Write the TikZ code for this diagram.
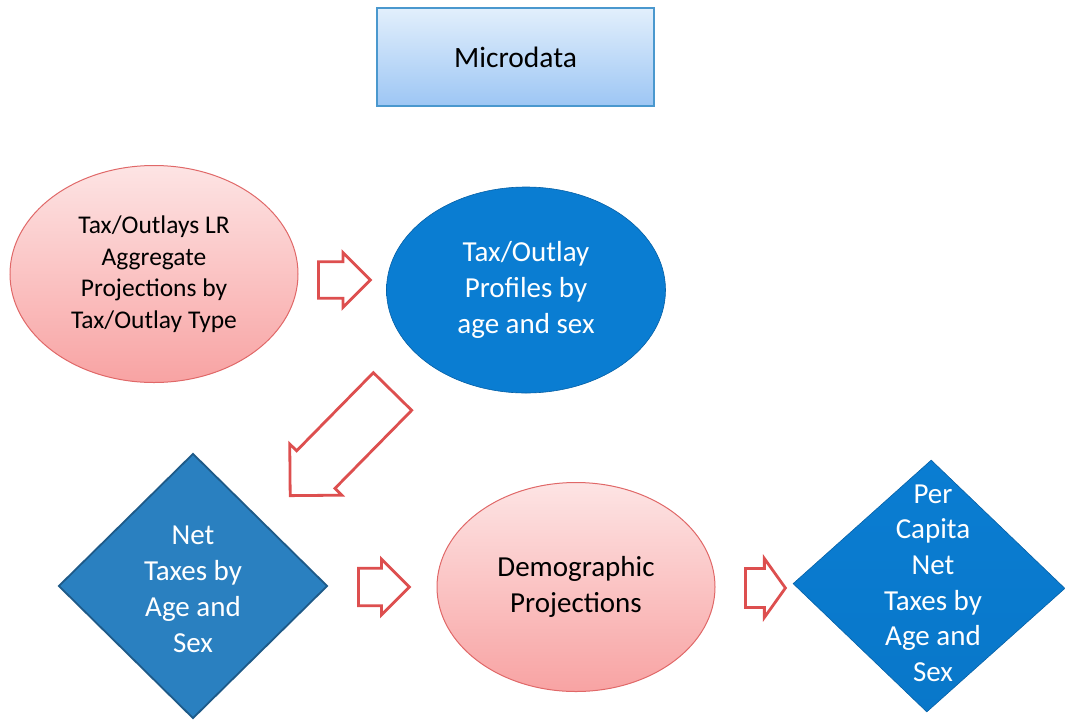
\documentclass[tikz,border=0pt]{standalone}
\usepackage{fontspec}
\setmainfont{Carlito}
\usetikzlibrary{shapes.geometric,shapes.arrows}
\definecolor{pinktop}{HTML}{FDE4E4}
\definecolor{pinkbot}{HTML}{F8A3A3}
\definecolor{pinkline}{HTML}{E06868}
\definecolor{bluemain}{HTML}{0A7DD2}
\definecolor{bluedark}{HTML}{0560A6}
\definecolor{netblue}{HTML}{2A80C0}
\definecolor{netline}{HTML}{1E5A88}
\definecolor{mictop}{HTML}{E2EFFC}
\definecolor{micbot}{HTML}{9DC6F4}
\definecolor{micline}{HTML}{4A98CE}
\definecolor{arrowred}{HTML}{DD4F4F}
\pgfdeclareradialshading{bevelblue}{\pgfpoint{0bp}{3bp}}{color(0bp)=(bluemain); color(41bp)=(bluemain); color(50bp)=(bluedark)}
\tikzset{
  pinkell/.style={ellipse, draw=pinkline, line width=1pt, top color=pinktop, bottom color=pinkbot, inner sep=0pt},
  blueell/.style={ellipse, shading=bevelblue, draw=bluedark, line width=0.6pt, inner sep=0pt},
  diam/.style={diamond, inner sep=0pt, aspect=1},
  blockarrow/.style={single arrow, draw=arrowred, fill=white, line width=2.8pt, single arrow tip angle=90, inner sep=0pt, anchor=tail},
  bigtxt/.style={font=\fontsize{29}{36}\selectfont, align=center},
  smalltxt/.style={font=\fontsize{25.5}{31.5}\selectfont, align=center},
}
\begin{document}
\begin{tikzpicture}[x=1pt,y=-1pt]
\useasboundingbox (0,0) rectangle (1065,721);
% Microdata
\node[rectangle, draw=micline, line width=1.2pt, top color=mictop, bottom color=micbot,
      minimum width=277pt, minimum height=98pt, inner sep=0pt,
      font=\fontsize{29.5}{36}\selectfont] (mic) at (515.5,57) {Microdata};
% ellipses
\node[pinkell, minimum width=288pt, minimum height=217pt, smalltxt] (agg) at (154,274)
  {Tax/Outlays LR\\Aggregate\\Projections by\\Tax/Outlay Type};
\node[blueell, minimum width=279pt, minimum height=206pt, bigtxt, text=white] (prof) at (526,290)
  {Tax/Outlay\\Profiles by\\age and sex};
\node[pinkell, minimum width=278pt, minimum height=209pt, bigtxt] (demo) at (576,587)
  {Demographic\\Projections};
% diamonds
\node[diam, draw=netline, line width=1.8pt, fill=netblue, minimum width=269pt, minimum height=265pt] (net) at (193,586) {};
\node[bigtxt, text=white] (nettxt) at (193,589) {Net\\Taxes by\\Age and\\Sex};
\node[diam, draw=bluedark, line width=0.6pt, top color=bluemain, bottom color=bluemain!80!bluedark,
      minimum width=272pt, minimum height=252pt, rotate=-1] (pc) at (929,586) {};
\node[font=\fontsize{29}{35.6}\selectfont, align=center, text=white] (pctxt) at (933,583)
  {Per\\Capita\\Net\\Taxes by\\Age and\\Sex};
% block arrows
\node[blockarrow, minimum height=52pt, minimum width=55pt, inner ysep=12.5pt] (a1) at (317,280) {};
\node[blockarrow, minimum height=146pt, minimum width=73pt, inner ysep=18.4pt, rotate=225.5] (a2) at (393.5,390.5) {};
\node[blockarrow, minimum height=51pt, minimum width=56pt, inner ysep=13pt] (a3) at (357,587) {};
\node[blockarrow, single arrow tip angle=109, minimum height=40pt, minimum width=59pt, inner ysep=12.5pt] (a4) at (744,588) {};
\end{tikzpicture}
\end{document}
